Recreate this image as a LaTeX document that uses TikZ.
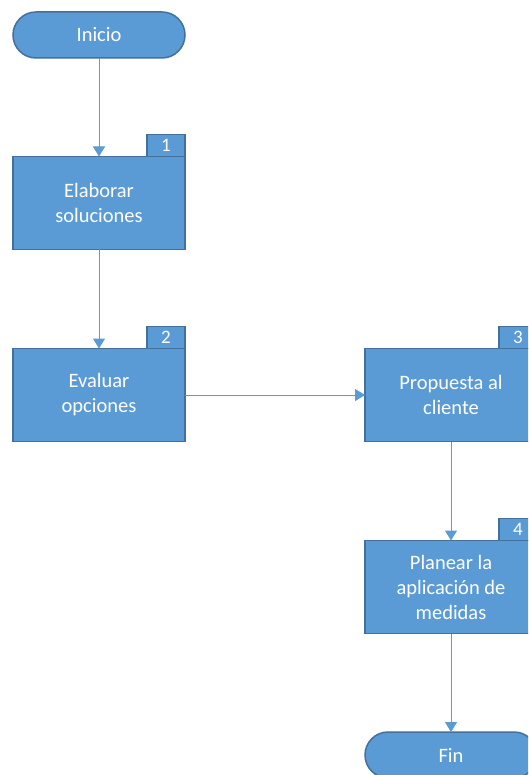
\documentclass[tikz,border=0pt]{standalone}
\usepackage{fontspec}
\setmainfont{Carlito}
\usetikzlibrary{arrows.meta}
\definecolor{boxfill}{HTML}{5B9BD5}
\definecolor{boxedge}{HTML}{41719C}
\definecolor{flow}{HTML}{5B9BD5}
\begin{document}
\begin{tikzpicture}[x=1pt,y=-1pt,
  every node/.style={inner sep=0pt,outer sep=0pt},
  process/.style={draw=boxedge,line width=1.5pt,fill=boxfill,text=white,
    minimum width=172pt,minimum height=93pt,align=center,
    font=\fontsize{20.5pt}{25pt}\selectfont},
  terminal/.style={draw=boxedge,line width=1.5pt,fill=boxfill,text=white,
    minimum width=172pt,minimum height=46pt,rounded corners=23pt,
    font=\fontsize{20.5pt}{25pt}\selectfont},
  numtab/.style={draw=boxedge,line width=1.5pt,fill=boxfill,text=white,
    minimum width=38pt,minimum height=22pt,anchor=south east,
    font=\fontsize{19pt}{22pt}\selectfont},
  flowline/.style={draw=flow,line width=1pt,-{Triangle[width=12pt,length=10pt]}}]
\useasboundingbox (0,0) rectangle (528,775);
\fill[white] (0,0) rectangle (528,775);
\clip (0,0) rectangle (528,775);

% terminals
\node[terminal] (start) at (99,35) {Inicio};
\node[terminal] (end) at (451,755) {Fin};

% process boxes with numbered tabs
\node[process] (s1) at (99,203) {Elaborar\\soluciones};
\node[numtab] (t1) at (s1.north east) {1};
\node[process] (s2) at (99,395) {Evaluar\\opciones};
\node[numtab] (t2) at (s2.north east) {2};
\node[process] (s3) at (451,395) {Propuesta al\\cliente};
\node[numtab] (t3) at (s3.north east) {3};
\node[process] (s4) at (451,587) {Planear la\\aplicación de\\medidas};
\node[numtab] (t4) at (s4.north east) {4};

% connectors
\draw[flowline] (start) -- (s1);
\draw[flowline] (s1) -- (s2);
\draw[flowline] (s2) -- (s3);
\draw[flowline] (s3) -- (s4);
\draw[flowline] (s4) -- (end);
\end{tikzpicture}
\end{document}
